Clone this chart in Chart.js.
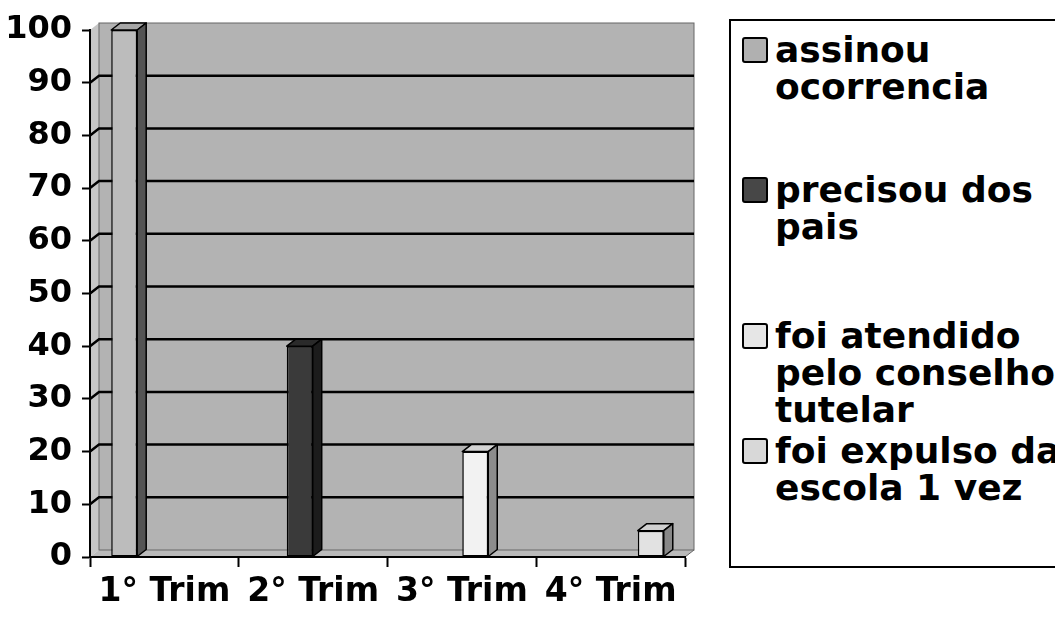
<!DOCTYPE html>
<html>
<head>
<meta charset="utf-8">
<script src="https://cdn.jsdelivr.net/npm/chart.js@4/dist/chart.umd.min.js"></script>
<style>
  html, body { margin: 0; padding: 0; background: #fff; }
  #wrap { position: relative; width: 1055px; height: 617px; overflow: hidden; background: #fff; }
  #chartBox { position: absolute; left: 0; top: 0; width: 720px; height: 617px; }
  #legend {
    position: absolute; left: 729px; top: 19px; width: 360px; height: 545px;
    border: 2px solid #000; box-sizing: content-box;
    font-family: "DejaVu Sans", sans-serif; font-weight: bold; font-size: 36px; line-height: 37px; color: #000;
  }
  .item { position: absolute; left: 0; }
  .swatch { position: absolute; left: 11px; width: 22px; height: 22px; border: 2px solid #000; border-radius: 3px; }
  .text { position: absolute; left: 44px; white-space: nowrap; }
</style>
</head>
<body>
<div id="wrap">
  <div id="chartBox"><canvas id="chart"></canvas></div>
  <div id="legend"></div>
</div>
<script>
// Data
const categories = ['1° Trim', '2° Trim', '3° Trim', '4° Trim'];
const seriesLabels = [
  ['assinou', 'ocorrencia'],
  ['precisou dos', 'pais'],
  ['foi atendido', 'pelo conselho', 'tutelar'],
  ['foi expulso da', 'escola 1 vez']
];
const assinouValues = [100, 0, 0, 0];
const paisValues = [0, 40, 0, 0];
const conselhoValues = [0, 0, 20, 0];
const expulsoValues = [0, 0, 0, 5];
const yTicks = [0, 10, 20, 30, 40, 50, 60, 70, 80, 90, 100];

// Looks
const frontColors = ['#bcbcbc', '#3a3a3a', '#f2f2f2', '#e2e2e2'];
const topColors = ['#a6a6a6', '#2a2a2a', '#d4d4d4', '#d0d0d0'];
const sideColors = ['#545454', '#1c1c1c', '#8c8c8c', '#888888'];
const swatchColors = ['#b0b0b0', '#474747', '#e6e6e6', '#d8d8d8'];
const legendTops = [10, 150, 296, 411]; // item tops inside legend box
const depth = { x: 9, y: -7 };
const FONT = '"DejaVu Sans", sans-serif';

// 3D walls + gridlines behind the bars
const wallsPlugin = {
  id: 'walls3d',
  beforeDraw(chart) {
    const { ctx, chartArea: a, scales: { y } } = chart;
    const dx = depth.x, dy = depth.y;
    ctx.save();
    // back wall
    ctx.fillStyle = '#b3b3b3';
    ctx.fillRect(a.left + dx, a.top + dy, a.right - a.left, a.bottom - a.top);
    // side wall
    ctx.fillStyle = '#c6c6c6';
    ctx.beginPath();
    ctx.moveTo(a.left, a.top);
    ctx.lineTo(a.left + dx, a.top + dy);
    ctx.lineTo(a.left + dx, a.bottom + dy);
    ctx.lineTo(a.left, a.bottom);
    ctx.closePath();
    ctx.fill();
    // floor
    ctx.fillStyle = '#bababa';
    ctx.beginPath();
    ctx.moveTo(a.left, a.bottom);
    ctx.lineTo(a.left + dx, a.bottom + dy);
    ctx.lineTo(a.right + dx, a.bottom + dy);
    ctx.lineTo(a.right, a.bottom);
    ctx.closePath();
    ctx.fill();
    // outline of walls
    ctx.strokeStyle = '#666';
    ctx.lineWidth = 1;
    ctx.strokeRect(a.left + dx, a.top + dy, a.right - a.left, a.bottom - a.top);
    ctx.beginPath();
    ctx.moveTo(a.right, a.bottom);
    ctx.lineTo(a.right + dx, a.bottom + dy);
    ctx.stroke();
    // gridlines
    ctx.strokeStyle = '#000';
    ctx.lineWidth = 2.5;
    y.ticks.forEach(t => {
      if (t.value === 0 || t.value === 100) return;
      const py = y.getPixelForValue(t.value);
      ctx.beginPath();
      ctx.moveTo(a.left, py);
      ctx.lineTo(a.left + dx, py + dy);
      ctx.lineTo(a.right + dx, py + dy);
      ctx.stroke();
    });
    ctx.restore();
  }
};

// top and side faces of each bar
const barFacesPlugin = {
  id: 'barFaces',
  afterDatasetsDraw(chart) {
    const { ctx } = chart;
    const dx = depth.x, dy = depth.y;
    ctx.save();
    ctx.strokeStyle = '#000';
    ctx.lineWidth = 1.5;
    ctx.lineJoin = 'round';
    chart.data.datasets.forEach((ds, i) => {
      const meta = chart.getDatasetMeta(i);
      meta.data.forEach((bar, j) => {
        if (!(ds.data[j] > 0)) return;
        const { x, y, base, width } = bar.getProps(['x', 'y', 'base', 'width'], true);
        const l = x - width / 2, r = x + width / 2;
        // top
        ctx.fillStyle = topColors[i];
        ctx.beginPath();
        ctx.moveTo(l, y);
        ctx.lineTo(l + dx, y + dy);
        ctx.lineTo(r + dx, y + dy);
        ctx.lineTo(r, y);
        ctx.closePath();
        ctx.fill();
        ctx.stroke();
        // side
        ctx.fillStyle = sideColors[i];
        ctx.beginPath();
        ctx.moveTo(r, y);
        ctx.lineTo(r + dx, y + dy);
        ctx.lineTo(r + dx, base + dy);
        ctx.lineTo(r, base);
        ctx.closePath();
        ctx.fill();
        ctx.stroke();
      });
    });
    ctx.restore();
  }
};

function makeDataset(idx, values) {
  return {
    label: seriesLabels[idx].join(' '),
    data: values,
    backgroundColor: frontColors[idx],
    borderColor: '#000',
    borderWidth: c => (c.raw > 0 ? 1.5 : 0),
    borderSkipped: false,
    categoryPercentage: 0.72,
    barPercentage: 0.97
  };
}

const ctx = document.getElementById('chart').getContext('2d');
new Chart(ctx, {
  type: 'bar',
  data: {
    labels: categories,
    datasets: [
      makeDataset(0, assinouValues),
      makeDataset(1, paisValues),
      makeDataset(2, conselhoValues),
      makeDataset(3, expulsoValues)
    ]
  },
  options: {
    responsive: true,
    maintainAspectRatio: false,
    animation: false,
    layout: { padding: { top: 30, right: 35, left: 0, bottom: 0 } },
    plugins: {
      legend: { display: false },
      tooltip: { enabled: false }
    },
    scales: {
      x: {
        border: { display: true, color: '#000', width: 2 },
        grid: { display: true, drawOnChartArea: false, drawTicks: true, tickLength: 10, tickColor: '#000', tickWidth: 2, offset: true },
        ticks: { color: '#000', padding: 6, font: { family: FONT, weight: 'bold', size: 33 } },
        afterFit: s => { s.height = 60; }
      },
      y: {
        min: 0,
        max: 100,
        afterBuildTicks: s => { s.ticks = yTicks.map(v => ({ value: v })); },
        border: { display: true, color: '#000', width: 2 },
        grid: { display: true, drawOnChartArea: false, drawTicks: true, tickLength: 8, tickColor: '#000', tickWidth: 2 },
        ticks: { color: '#000', padding: 10, font: { family: FONT, weight: 'bold', size: 32 } },
        afterFit: s => { s.width = 90; }
      }
    }
  },
  plugins: [wallsPlugin, barFacesPlugin]
});

// legend with wrapped labels
const legend = document.getElementById('legend');
seriesLabels.forEach((lines, i) => {
  const item = document.createElement('div');
  item.className = 'item';
  item.style.top = legendTops[i] + 'px';
  const sw = document.createElement('div');
  sw.className = 'swatch';
  sw.style.top = '6px';
  sw.style.background = swatchColors[i];
  const txt = document.createElement('div');
  txt.className = 'text';
  txt.innerHTML = lines.join('<br>');
  item.appendChild(sw);
  item.appendChild(txt);
  legend.appendChild(item);
});
</script>
</body>
</html>
